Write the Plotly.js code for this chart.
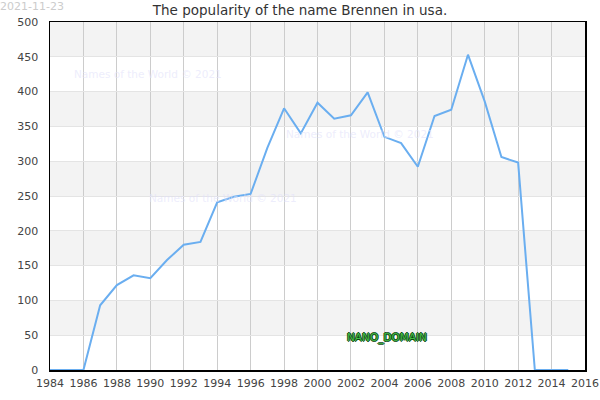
<!DOCTYPE html>
<html>
<head>
<meta charset="utf-8">
<script src="https://cdn.plot.ly/plotly-3.0.1.min.js"></script>
<style>html,body{margin:0;padding:0;background:#fff;}#chart{width:600px;height:400px;}</style>
</head>
<body>
<div id="chart"></div>
<script>
const years = [1984,1985,1986,1987,1988,1989,1990,1991,1992,1993,1994,1995,1996,1997,1998,1999,2000,2001,2002,2003,2004,2005,2006,2007,2008,2009,2010,2011,2012,2013,2014,2015];
const counts = [0,0,0,93,122,136,132,158,180,184,241,249,253,319,376,340,384,361,366,399,335,326,292,365,374,453,386,306,298,0,0,0];
const xTicks = [1984,1986,1988,1990,1992,1994,1996,1998,2000,2002,2004,2006,2008,2010,2012,2014,2016];
const yTicks = [0,50,100,150,200,250,300,350,400,450,500];
const titleText = "The popularity of the name Brennen in usa.";
const dateText = "2021-11-23";
const watermark = "Names of the World © 2021";
const domainText = "NANO_DOMAIN";

const font = "DejaVu Sans, sans-serif";
const shapes = [];
for (let v = 0; v < 500; v += 50) {
  if ((v / 50) % 2 === 1) {
    shapes.push({type:'rect', xref:'paper', yref:'y', x0:0, x1:1, y0:v, y1:v+50,
      fillcolor:'#f3f3f3', line:{width:0}, layer:'below'});
  }
}
const wm = {color:'rgba(225,225,250,0.6)', size:10.5, family:font};
const annotations = [
  {text:dateText, xref:'paper', yref:'paper', x:-0.095, y:1.066, xanchor:'left', yanchor:'top', borderpad:0, showarrow:false, font:{size:11, color:'#cccccc', family:font}},
  {text:watermark, xref:'x', yref:'y', x:1985.3, y:425, xanchor:'left', yanchor:'middle', showarrow:false, font:wm},
  {text:watermark, xref:'x', yref:'y', x:1998.0, y:339, xanchor:'left', yanchor:'middle', showarrow:false, font:wm},
  {text:watermark, xref:'x', yref:'y', x:1989.8, y:247, xanchor:'left', yanchor:'middle', showarrow:false, font:wm},
  {text:domainText, xref:'x', yref:'y', x:2004.15, y:47, xanchor:'center', yanchor:'middle', showarrow:false,
    font:{size:10.5, color:'#44bb44', family:font, shadow:'1px 0 0 #0b4a14, -1px 0 0 #0b4a14, 0 1px 0 #0b4a14, 0 -1px 0 #0b4a14'}}
];

const data = [{
  x: years, y: counts, type:'scatter', mode:'lines',
  line:{color:'#6aaef0', width:2}, hoverinfo:'x+y'
}];
const layout = {
  width:600, height:400,
  margin:{l:50, r:15, t:22, b:30},
  paper_bgcolor:'#ffffff', plot_bgcolor:'#ffffff',
  title:{text:titleText, x:0.5, xanchor:'center', y:0.975, yanchor:'middle', font:{size:13.5, color:'#333333', family:font}},
  showlegend:false,
  xaxis:{range:[1984,2016], tickvals:xTicks, ticktext:xTicks.map(String), showgrid:true, gridcolor:'#cccccc', gridwidth:1,
    showline:true, linecolor:'#000000', linewidth:1.5, mirror:true, zeroline:false, ticks:'', ticklabelstandoff:2, tickfont:{size:11, color:'#444444', family:font}},
  yaxis:{range:[0,500], tickvals:yTicks, ticktext:yTicks.map(String), showgrid:true, gridcolor:'#e4e4e4', gridwidth:1,
    showline:true, linecolor:'#000000', linewidth:1.5, mirror:true, zeroline:false, ticks:'', ticklabelstandoff:8, tickfont:{size:11, color:'#444444', family:font}},
  shapes:shapes,
  annotations:annotations
};
Plotly.newPlot('chart', data, layout, {displayModeBar:false, staticPlot:true});
</script>
</body>
</html>
